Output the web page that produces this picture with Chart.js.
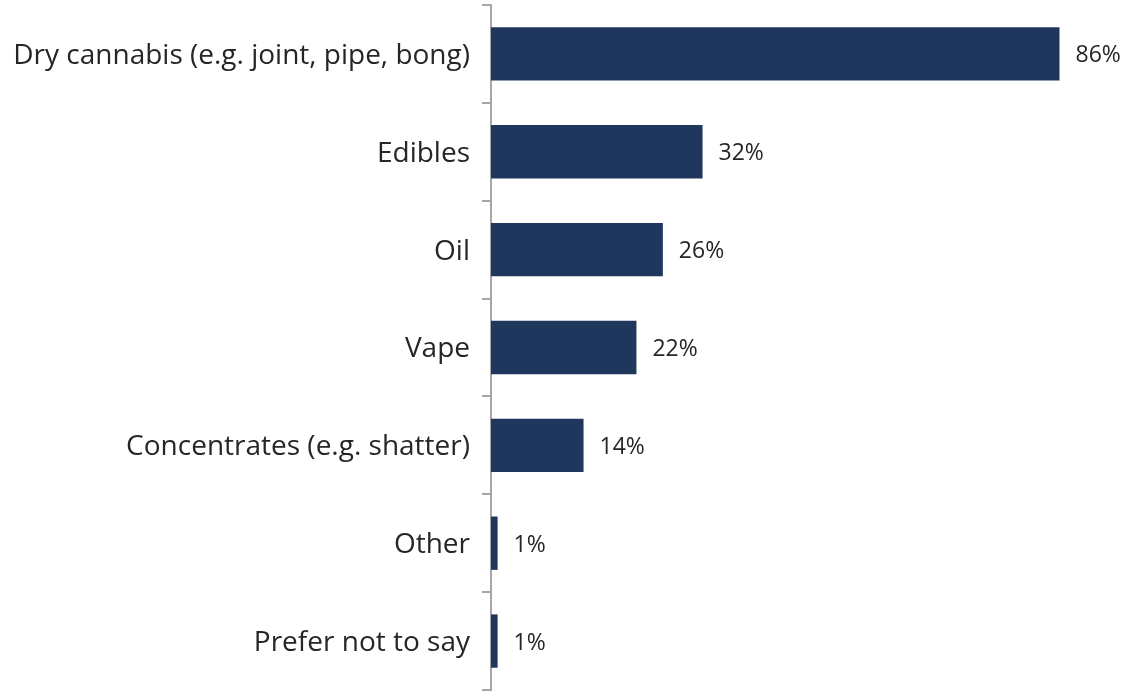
<!DOCTYPE html>
<html>
<head>
<meta charset="utf-8">
<script src="https://cdn.jsdelivr.net/npm/chart.js@4"></script>
<style>
    html, body { margin: 0; padding: 0; background: #fff; }
    #wrap { width: 1127px; height: 692px; }
</style>
</head>
<body>
<div id="wrap"><canvas id="myChart"></canvas></div>
<script>
const categories = [
    'Dry cannabis (e.g. joint, pipe, bong)',
    'Edibles',
    'Oil',
    'Vape',
    'Concentrates (e.g. shatter)',
    'Other',
    'Prefer not to say'
];
const shares = [86, 32, 26, 22, 14, 1, 1];

const BAR_COLOR = '#1f375c';
const AXIS_COLOR = '#a6a6a6';
const TEXT_COLOR = '#262626';
const FONT = "'Open Sans'";

// writes "NN%" just past the end of each bar
const valueLabels = {
    id: 'valueLabels',
    afterDatasetsDraw(chart) {
        const ctx = chart.ctx;
        const meta = chart.getDatasetMeta(0);
        ctx.save();
        ctx.font = '23px ' + FONT;
        ctx.fillStyle = TEXT_COLOR;
        ctx.textAlign = 'left';
        ctx.textBaseline = 'middle';
        meta.data.forEach((bar, i) => {
            ctx.fillText(shares[i] + '%', bar.x + 16, bar.y + 2);
        });
        ctx.restore();
    }
};

const ctx = document.getElementById('myChart');
new Chart(ctx, {
    type: 'bar',
    data: {
        labels: categories,
        datasets: [{
            data: shares,
            backgroundColor: BAR_COLOR,
            categoryPercentage: 1,
            barPercentage: 0.545
        }]
    },
    options: {
        indexAxis: 'y',
        responsive: true,
        maintainAspectRatio: false,
        animation: false,
        layout: { padding: { top: 5, bottom: 2, right: 8, left: 0 } },
        plugins: {
            legend: { display: false },
            tooltip: { enabled: false }
        },
        scales: {
            x: {
                display: false,
                min: 0,
                max: 95
            },
            y: {
                afterFit(scale) {
                    // fixed gutter for the labels, no extra room above/below
                    scale.width = 491;
                    scale.paddingTop = 0;
                    scale.paddingBottom = 0;
                },
                border: { color: AXIS_COLOR, width: 2 },
                grid: {
                    offset: true,
                    drawOnChartArea: false,
                    color: AXIS_COLOR,
                    lineWidth: 2,
                    tickLength: 9
                },
                ticks: {
                    color: TEXT_COLOR,
                    padding: 12,
                    labelOffset: 2,
                    font: { family: FONT, size: 28 }
                }
            }
        }
    },
    plugins: [valueLabels]
});
</script>
</body>
</html>
